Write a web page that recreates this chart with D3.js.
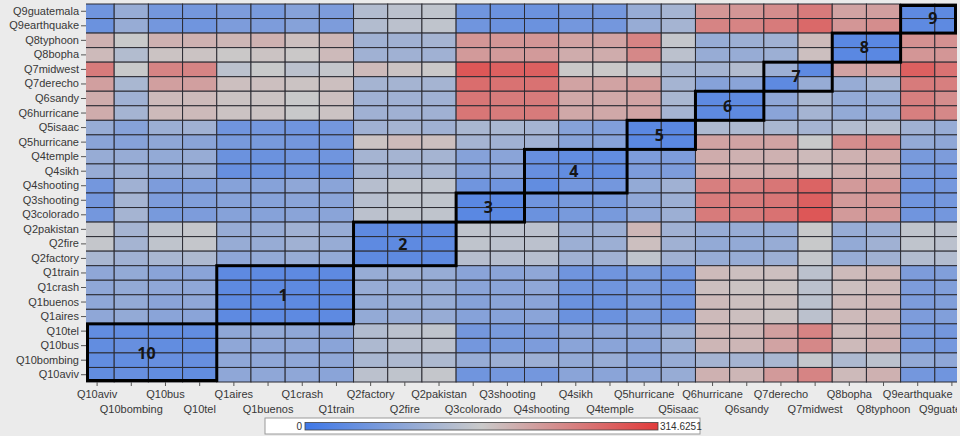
<!DOCTYPE html>
<html>
<head>
<meta charset="utf-8">
<script src="https://cdn.jsdelivr.net/npm/d3@7"></script>
<style>
  body { margin: 0; background: #ebebeb; }
  svg { display: block; font-family: "Liberation Sans", Arial, sans-serif; }
</style>
</head>
<body>
<div id="chart"></div>
<script>
// row order, top to bottom
var rowLabels = ["Q9guatemala", "Q9earthquake", "Q8typhoon", "Q8bopha", "Q7midwest", "Q7derecho",
  "Q6sandy", "Q6hurricane", "Q5isaac", "Q5hurricane", "Q4temple", "Q4sikh", "Q4shooting",
  "Q3shooting", "Q3colorado", "Q2pakistan", "Q2fire", "Q2factory", "Q1train", "Q1crash",
  "Q1buenos", "Q1aires", "Q10tel", "Q10bus", "Q10bombing", "Q10aviv"];

var colLabels = ["Q10aviv", "Q10bombing", "Q10bus", "Q10tel", "Q1aires", "Q1buenos", "Q1crash",
  "Q1train", "Q2factory", "Q2fire", "Q2pakistan", "Q3colorado", "Q3shooting", "Q4shooting",
  "Q4sikh", "Q4temple", "Q5hurricane", "Q5isaac", "Q6hurricane", "Q6sandy", "Q7derecho",
  "Q7midwest", "Q8bopha", "Q8typhoon", "Q9earthquake", "Q9guatemala"];

// one array per row, values in column order
var rowQ9guatemala = [55, 100, 60, 60, 70, 65, 80, 70, 130, 140, 145, 55, 50, 50, 60, 60, 100, 115, 215, 215, 225, 245, 200, 205, 35, 35];
var rowQ9earthquake = [50, 100, 60, 55, 70, 70, 80, 70, 130, 140, 145, 55, 50, 50, 60, 60, 100, 115, 235, 235, 245, 265, 215, 225, 35, 35];
var rowQ8typhoon = [185, 155, 185, 185, 180, 185, 170, 180, 110, 110, 115, 215, 215, 215, 200, 200, 235, 150, 100, 105, 110, 175, 30, 30, 220, 220];
var rowQ8bopha = [175, 130, 165, 165, 160, 165, 160, 175, 110, 110, 110, 210, 210, 210, 190, 190, 230, 140, 100, 100, 105, 170, 30, 30, 215, 215];
var rowQ7midwest = [245, 155, 235, 235, 140, 155, 140, 150, 175, 165, 160, 285, 275, 275, 160, 160, 150, 120, 115, 130, 105, 35, 200, 200, 275, 255];
var rowQ7derecho = [205, 120, 205, 205, 170, 170, 165, 170, 115, 115, 115, 260, 255, 255, 200, 200, 210, 115, 80, 85, 35, 100, 100, 115, 245, 240];
var rowQ6sandy = [190, 110, 175, 175, 165, 165, 155, 170, 110, 110, 110, 250, 245, 245, 195, 195, 200, 120, 35, 35, 90, 120, 95, 100, 240, 225];
var rowQ6hurricane = [190, 115, 175, 175, 165, 165, 155, 165, 110, 110, 110, 250, 245, 245, 195, 195, 200, 115, 35, 35, 85, 115, 95, 100, 240, 230];
var rowQ5isaac = [100, 80, 105, 110, 55, 60, 55, 60, 110, 115, 110, 120, 120, 115, 80, 75, 30, 30, 125, 125, 120, 115, 130, 135, 110, 100];
var rowQ5hurricane = [85, 80, 90, 85, 65, 65, 60, 60, 165, 175, 170, 115, 110, 110, 80, 80, 30, 30, 200, 200, 200, 155, 225, 230, 95, 90];
var rowQ4temple = [100, 100, 95, 100, 50, 50, 55, 55, 115, 115, 115, 80, 85, 45, 40, 40, 70, 70, 190, 185, 185, 175, 185, 190, 65, 70];
var rowQ4sikh = [100, 105, 95, 100, 45, 50, 55, 50, 115, 115, 115, 80, 85, 45, 40, 40, 70, 70, 190, 185, 185, 170, 185, 185, 65, 60];
var rowQ4shooting = [60, 110, 70, 75, 80, 80, 90, 85, 135, 145, 145, 55, 55, 40, 60, 60, 95, 110, 240, 240, 250, 270, 210, 215, 55, 60];
var rowQ3shooting = [60, 115, 70, 75, 80, 80, 85, 85, 135, 145, 145, 30, 30, 55, 65, 65, 90, 105, 245, 245, 250, 275, 210, 215, 55, 60];
var rowQ3colorado = [60, 115, 65, 70, 80, 80, 85, 85, 140, 145, 145, 30, 30, 50, 65, 65, 90, 105, 245, 245, 255, 285, 210, 215, 55, 60];
var rowQ2pakistan = [150, 115, 145, 150, 100, 100, 110, 100, 35, 35, 35, 145, 140, 140, 105, 105, 180, 110, 100, 100, 100, 155, 100, 105, 145, 140];
var rowQ2fire = [150, 115, 145, 150, 100, 100, 110, 100, 35, 35, 35, 145, 140, 140, 105, 105, 170, 110, 95, 95, 100, 155, 95, 110, 145, 140];
var rowQ2factory = [120, 110, 120, 125, 90, 95, 100, 95, 35, 35, 35, 135, 135, 135, 110, 110, 145, 110, 100, 100, 105, 150, 100, 110, 130, 130];
var rowQ1train = [90, 95, 85, 85, 35, 35, 35, 35, 100, 105, 100, 85, 85, 90, 55, 55, 65, 55, 175, 170, 170, 140, 175, 180, 70, 75];
var rowQ1crash = [90, 95, 90, 90, 35, 35, 35, 35, 100, 100, 100, 85, 85, 90, 55, 55, 65, 55, 170, 165, 165, 140, 170, 175, 70, 75];
var rowQ1buenos = [90, 95, 85, 90, 35, 35, 35, 35, 95, 100, 100, 80, 85, 85, 50, 50, 65, 55, 175, 170, 170, 140, 175, 180, 70, 75];
var rowQ1aires = [90, 95, 85, 85, 35, 35, 35, 35, 95, 100, 100, 80, 80, 85, 50, 50, 65, 55, 175, 170, 165, 140, 175, 180, 70, 75];
var rowQ10tel = [40, 40, 40, 40, 90, 95, 90, 85, 130, 140, 145, 60, 65, 70, 85, 85, 85, 105, 180, 180, 205, 235, 175, 185, 65, 60];
var rowQ10bus = [40, 45, 40, 40, 90, 90, 90, 85, 125, 135, 140, 60, 65, 70, 85, 85, 85, 105, 180, 180, 200, 230, 175, 185, 65, 60];
var rowQ10bombing = [40, 40, 45, 45, 90, 90, 90, 90, 120, 125, 125, 100, 105, 105, 95, 100, 85, 100, 115, 115, 120, 150, 125, 140, 95, 90];
var rowQ10aviv = [40, 45, 40, 40, 90, 90, 90, 85, 140, 145, 150, 55, 60, 60, 85, 85, 90, 100, 185, 180, 210, 235, 175, 185, 60, 55];

var matrix = [rowQ9guatemala, rowQ9earthquake, rowQ8typhoon, rowQ8bopha, rowQ7midwest, rowQ7derecho,
  rowQ6sandy, rowQ6hurricane, rowQ5isaac, rowQ5hurricane, rowQ4temple, rowQ4sikh, rowQ4shooting,
  rowQ3shooting, rowQ3colorado, rowQ2pakistan, rowQ2fire, rowQ2factory, rowQ1train, rowQ1crash,
  rowQ1buenos, rowQ1aires, rowQ10tel, rowQ10bus, rowQ10bombing, rowQ10aviv];

// diagonal groups outlined in black
var groupPrefixes = ["Q10", "Q1", "Q2", "Q3", "Q4", "Q5", "Q6", "Q7", "Q8", "Q9"];
var groupLabels = ["10", "1", "2", "3", "4", "5", "6", "7", "8", "9"];

var legendMin = 0;
var legendMax = 314.6251;

var width = 960, height = 436;
var viewLeft = 86, viewRight = 957, gridTop = 4, gridBottom = 382;

var svg = d3.select('#chart').append('svg')
  .attr('width', width)
  .attr('height', height);

// the grid is scrolled a little: first and last column are partly hidden
var x = d3.scaleBand().domain(colLabels).range([80, 969]);
var y = d3.scaleBand().domain(rowLabels).range([gridTop, gridBottom]);

var color = d3.scaleLinear()
  .domain([legendMin, legendMax / 2, legendMax])
  .range(["#3f78e8", "#cacaca", "#e23c3c"]);

var defs = svg.append('defs');
defs.append('clipPath').attr('id', 'gridClip')
  .append('rect')
  .attr('x', viewLeft).attr('y', 0)
  .attr('width', viewRight - viewLeft).attr('height', gridBottom + 3);
defs.append('clipPath').attr('id', 'axisClip')
  .append('rect')
  .attr('x', 0).attr('y', 0)
  .attr('width', viewRight).attr('height', height);

var cells = [];
matrix.forEach(function (row, i) {
  row.forEach(function (v, j) {
    cells.push({ r: rowLabels[i], c: colLabels[j], v: v });
  });
});

var grid = svg.append('g').attr('clip-path', 'url(#gridClip)');

grid.selectAll('rect.cell')
  .data(cells)
  .enter()
  .append('rect')
  .attr('class', 'cell')
  .attr('x', function (d) { return x(d.c); })
  .attr('y', function (d) { return y(d.r); })
  .attr('width', x.bandwidth())
  .attr('height', y.bandwidth())
  .attr('fill', function (d) { return color(d.v); })
  .attr('stroke', '#2b2b33')
  .attr('stroke-width', 1);

// group boxes
var groups = groupPrefixes.map(function (p, k) {
  var re = new RegExp('^' + p + '[a-z]');
  var cols = colLabels.filter(function (c) { return re.test(c); });
  var rows = rowLabels.filter(function (r) { return re.test(r); });
  var x0 = d3.min(cols, function (c) { return x(c); });
  var x1 = d3.max(cols, function (c) { return x(c) + x.bandwidth(); });
  var y0 = d3.min(rows, function (r) { return y(r); });
  var y1 = d3.max(rows, function (r) { return y(r) + y.bandwidth(); });
  return { label: groupLabels[k], x0: x0, x1: x1, y0: y0, y1: y1 };
});

svg.selectAll('rect.group')
  .data(groups)
  .enter()
  .append('rect')
  .attr('class', 'group')
  .attr('x', function (d) { return Math.max(d.x0, viewLeft + 1.5); })
  .attr('y', function (d) { return Math.max(d.y0, gridTop + 1.5); })
  .attr('width', function (d) { return Math.min(d.x1, viewRight - 1.5) - Math.max(d.x0, viewLeft + 1.5); })
  .attr('height', function (d) { return Math.min(d.y1, gridBottom - 1.5) - Math.max(d.y0, gridTop + 1.5); })
  .attr('fill', 'none')
  .attr('stroke', '#000')
  .attr('stroke-width', 3);

svg.selectAll('text.group')
  .data(groups)
  .enter()
  .append('text')
  .attr('class', 'group')
  .attr('x', function (d) { return (d.x0 + d.x1) / 2 - 2; })
  .attr('y', function (d) { return (d.y0 + d.y1) / 2; })
  .attr('dy', '0.36em')
  .attr('text-anchor', 'middle')
  .style('font-family', '"Open Sans", "Liberation Sans", sans-serif')
  .style('font-weight', 'bold')
  .style('font-size', '16px')
  .attr('fill', '#151515')
  .text(function (d) { return d.label; });

// axes
var yAxis = svg.append('g')
  .attr('transform', 'translate(' + viewLeft + ',0)')
  .call(d3.axisLeft(y).tickSize(5).tickPadding(2));
yAxis.select('.domain').remove();

var xAxis = svg.append('g')
  .attr('clip-path', 'url(#axisClip)')
  .append('g')
  .attr('transform', 'translate(0,' + gridBottom + ')')
  .call(d3.axisBottom(x).tickSize(4));
xAxis.select('.domain').remove();
xAxis.selectAll('.tick text')
  .attr('y', function (d, i) { return i % 2 ? 23 : 8; });

svg.selectAll('.tick text')
  .style('font-size', '11px')
  .attr('fill', '#383838');
svg.selectAll('.tick line').attr('stroke', '#555');

// legend
var lx = d3.scaleLinear().domain([legendMin, legendMax]).range([305, 658]);
var grad = defs.append('linearGradient').attr('id', 'legendGrad');
color.domain().forEach(function (v) {
  grad.append('stop')
    .attr('offset', (v - legendMin) / (legendMax - legendMin))
    .attr('stop-color', color(v));
});

var legend = svg.append('g');
legend.append('rect')
  .attr('x', 265).attr('y', 418)
  .attr('width', 435).attr('height', 16)
  .attr('fill', '#fff')
  .attr('stroke', '#9a9a9a');
legend.append('rect')
  .attr('x', lx(legendMin)).attr('y', 422.5)
  .attr('width', lx(legendMax) - lx(legendMin)).attr('height', 7.5)
  .attr('fill', 'url(#legendGrad)')
  .attr('stroke', '#444')
  .attr('stroke-width', 0.8);
legend.append('text')
  .attr('x', lx(legendMin) - 3).attr('y', 429.5)
  .attr('text-anchor', 'end')
  .style('font-size', '10px')
  .attr('fill', '#333')
  .text(legendMin);
legend.append('text')
  .attr('x', lx(legendMax) + 2).attr('y', 429.5)
  .style('font-size', '10px')
  .attr('fill', '#333')
  .text(legendMax);
</script>
</body>
</html>
